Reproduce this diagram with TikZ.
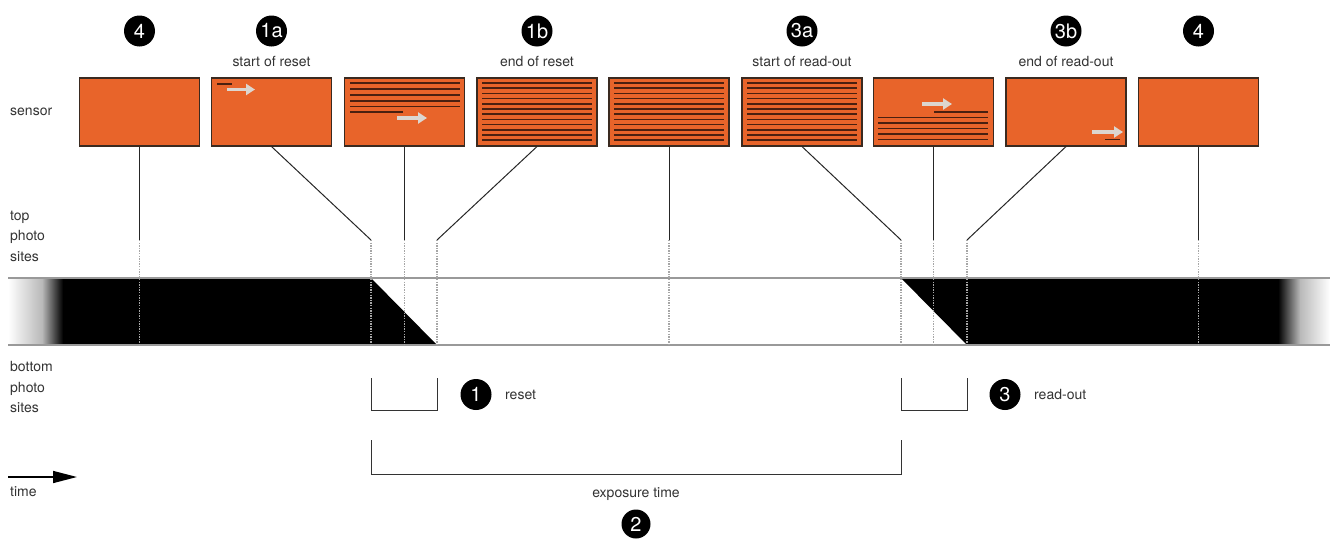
\documentclass[tikz,border=0pt]{standalone}
\usepackage{fontspec}
\setmainfont{TeX Gyre Heros}
\usetikzlibrary{arrows.meta,calc}
\definecolor{sensorfill}{HTML}{E8642A}
\definecolor{sensorborder}{HTML}{3A2A20}
\definecolor{rowline}{HTML}{4A2010}
\definecolor{txt}{HTML}{333333}
\definecolor{movearrow}{HTML}{DCD6D0}
\tikzset{
  sensorbox/.style={draw=sensorborder, line width=1.1pt, fill=sensorfill, minimum width=120pt, minimum height=68pt, inner sep=0pt},
  numcirc/.style={circle, fill=black, text=white, minimum size=31pt, inner sep=0pt, font=\fontsize{20}{20}\selectfont},
  lbl/.style={text=txt, font=\fontsize{14}{16}\selectfont, inner sep=0pt},
  sidelbl/.style={text=txt, font=\fontsize{14}{20.5}\selectfont, inner sep=0pt, align=left, anchor=west},
  conn/.style={draw=black!85, line width=1pt},
  dotline/.style={draw=gray!70, line width=1.3pt, dash pattern=on 1.3pt off 1.3pt},
  row/.style={draw=rowline, line width=1.5pt},
  mover/.style={draw=movearrow, line width=3.5pt, -{Triangle[length=9pt,width=11pt]}},
  bandline/.style={draw=gray!80, line width=1.2pt},
  bracket/.style={draw=black!80, line width=1pt}
}
\begin{document}
\begin{tikzpicture}[x=1pt,y=-1pt]
\useasboundingbox (0,0) rectangle (1334,541);
% ---- band ----
\shade[left color=white, right color=gray!55] (8,278) rectangle (42,345);
\shade[left color=gray!55, right color=black] (42,278) rectangle (63,345);
\fill[black] (62.5,278) rectangle (371,345);
\fill[black] (371,278) -- (437,345) -- (371,345) -- cycle;
\fill[black] (901,278) -- (967,278) -- (967,345) -- cycle;
\fill[black] (967,278) rectangle (1278.5,345);
\shade[left color=black, right color=gray!55] (1278,278) rectangle (1300,345);
\shade[left color=gray!55, right color=white] (1300,278) rectangle (1330,345);
\draw[bandline] (8,278) -- (1330,278);
\draw[bandline] (8,345) -- (1330,345);
% ---- sensor boxes ----
\node[sensorbox] (s1) at (139.5,112) {};
\node[sensorbox] (s2) at (271.5,112) {};
\node[sensorbox] (s3) at (404.5,112) {};
\node[sensorbox] (s4) at (537,112) {};
\node[sensorbox] (s5) at (669,112) {};
\node[sensorbox] (s6) at (802,112) {};
\node[sensorbox] (s7) at (933.5,112) {};
\node[sensorbox] (s8) at (1066,112) {};
\node[sensorbox] (s9) at (1198.5,112) {};
% rows
\draw[row] (217,84) -- (232,84);
\draw[mover] (227,89.5) -- (255,89.5);
\foreach \y in {83,89,95,101,106.5} \draw[row] (350,\y) -- (460,\y);
\draw[row] (350,112) -- (403,112);
\draw[mover] (397,118) -- (427,118);
\foreach \i in {0,...,11} {
  \draw[row] (482,83+5.2*\i) -- (592,83+5.2*\i);
  \draw[row] (614,83+5.2*\i) -- (724,83+5.2*\i);
  \draw[row] (747,83+5.2*\i) -- (857,83+5.2*\i);
}
\draw[row] (934,112) -- (988,112);
\foreach \y in {117.5,123,128.5,134,139.5} \draw[row] (878,\y) -- (988,\y);
\draw[mover] (922,104) -- (952,104);
\draw[row] (1105,139.5) -- (1120,139.5);
\draw[mover] (1092,132) -- (1123,132);
% ---- number circles and labels ----
\node[numcirc] (c4a) at (139.5,31) {4};
\node[numcirc] (c1a) at (271.5,31) {1a};
\node[numcirc] (c1b) at (537,31) {1b};
\node[numcirc] (c3a) at (802,31) {3a};
\node[numcirc] (c3b) at (1066,31) {3b};
\node[numcirc] (c4b) at (1198.5,31) {4};
\node[lbl] (l1a) at (271.5,61) {start of reset};
\node[lbl] (l1b) at (537,61) {end of reset};
\node[lbl] (l3a) at (802,61) {start of read-out};
\node[lbl] (l3b) at (1066,61) {end of read-out};
% ---- side labels ----
\node[sidelbl] (lsensor) at (10,112) {sensor};
\node[sidelbl] (ltop) at (10,236) {top\\photo\\sites};
\node[sidelbl] (lbot) at (10,387) {bottom\\photo\\sites};
% ---- connectors ----
\foreach \n/\x in {1/139.5,2/371,3/404.5,4/437,5/669,6/901,7/933.5,8/967,9/1198.5} {
  \coordinate (k\n) at (\x,240);
  \coordinate (b\n) at (\x,345);
}
\draw[conn] (s1.south) -- (k1);
\draw[conn] (s2.south) -- (k2);
\draw[conn] (s3.south) -- (k3);
\draw[conn] (s4.south) -- (k4);
\draw[conn] (s5.south) -- (k5);
\draw[conn] (s6.south) -- (k6);
\draw[conn] (s7.south) -- (k7);
\draw[conn] (s8.south) -- (k8);
\draw[conn] (s9.south) -- (k9);
\foreach \n in {1,...,9} \draw[dotline] (k\n) -- (b\n);
% ---- brackets ----
\draw[bracket] (371,378) -- (371,410) -- (437,410) -- (437,378);
\draw[bracket] (901,378) -- (901,410) -- (967,410) -- (967,378);
\draw[bracket] (371,440) -- (371,474) -- (901,474) -- (901,440);
\node[numcirc] (c1) at (476,394.5) {1};
\node[lbl, anchor=west] (lreset) at (505,394.5) {reset};
\node[numcirc] (c3) at (1005,394.5) {3};
\node[lbl, anchor=west] (lread) at (1034,394.5) {read-out};
\node[lbl] (lexp) at (636,494) {exposure time};
\node[numcirc, minimum size=29pt] (c2) at (636,524) {2};
% ---- time arrow ----
\coordinate (t0) at (8,477);
\coordinate (t1) at (77,477);
\draw[line width=1.5pt, -{Triangle[length=24pt,width=12pt]}] (t0) -- (t1);
\node[lbl, anchor=west] (ltime) at (10,492) {time};
\end{tikzpicture}
\end{document}
